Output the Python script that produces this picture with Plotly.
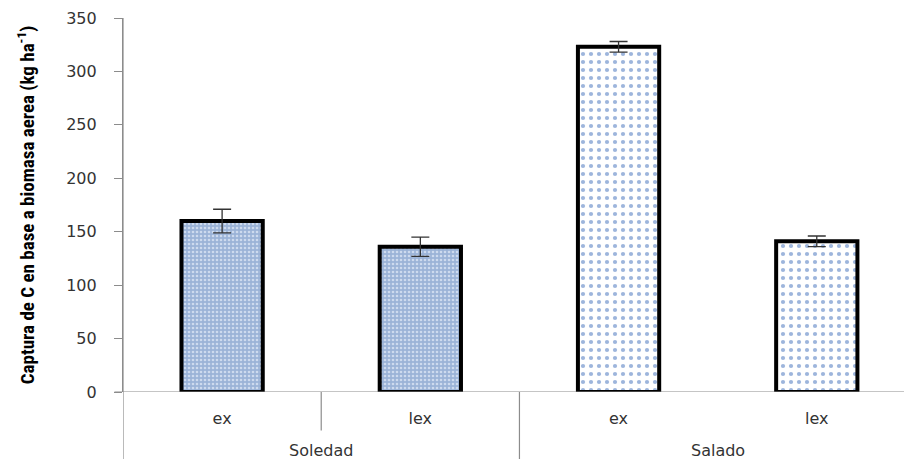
import plotly.graph_objects as go

# Carbon capture in aerial biomass by site and treatment
sites = ["Soledad", "Soledad", "Salado", "Salado"]
treatments = ["ex", "lex", "ex", "lex"]
capture = [160, 136, 323, 141]
capture_err = [11, 9, 5, 5]
y_ticks = [0, 50, 100, 150, 200, 250, 300, 350]

positions = list(range(len(capture)))

# fill style per site: dense light dots on blue, sparse blue dots on white
site_styles = {
    "Soledad": dict(bg="#9bb3d7", fg="#cddaee", size=4, solidity=0.35),
    "Salado": dict(bg="#ffffff", fg="#9db5dc", size=8, solidity=0.22),
}

fig = go.Figure()
for site, style in site_styles.items():
    idx = [i for i, s in enumerate(sites) if s == site]
    fig.add_trace(go.Bar(
        x=[positions[i] for i in idx],
        y=[capture[i] for i in idx],
        width=0.41,
        marker=dict(
            color=style["bg"],
            line=dict(color="black", width=4),
            pattern=dict(shape=".", fgcolor=style["fg"], bgcolor=style["bg"],
                         size=style["size"], solidity=style["solidity"],
                         fillmode="replace"),
        ),
        error_y=dict(type="data", array=[capture_err[i] for i in idx],
                     color="#333333", thickness=1.3, width=9),
        showlegend=False,
    ))

axis_col = "#8c8c8c"
shapes = [
    # category axis baseline, extending slightly left of the value axis
    dict(type="line", xref="paper", yref="y", x0=-0.011, x1=1, y0=0, y1=0,
         line=dict(color=axis_col, width=1.2)),
    # value axis continues down through the category label band
    dict(type="line", xref="x", yref="paper", x0=-0.5, x1=-0.5, y0=1, y1=-0.2,
         line=dict(color=axis_col, width=1.2)),
    # short dividers between treatments
    dict(type="line", xref="x", yref="paper", x0=0.5, x1=0.5, y0=0, y1=-0.103,
         line=dict(color=axis_col, width=1.2)),
    # long divider between sites
    dict(type="line", xref="x", yref="paper", x0=1.5, x1=1.5, y0=0, y1=-0.2,
         line=dict(color=axis_col, width=1.2)),
]

label_font = dict(family="DejaVu Sans", size=16, color="#333333")
annotations = []
for label, center in [("Soledad", 0.5), ("Salado", 2.5)]:
    annotations.append(dict(
        x=center, y=-0.157, xref="x", yref="paper", text=label,
        showarrow=False, font=label_font,
        xanchor="center", yanchor="middle",
    ))

fig.update_layout(
    width=904, height=459,
    margin=dict(l=123, r=0, t=18, b=67),
    paper_bgcolor="white", plot_bgcolor="white",
    shapes=shapes,
    annotations=annotations,
    barmode="overlay",
    xaxis=dict(
        range=[-0.5, 3.44],
        tickvals=positions, ticktext=treatments,
        ticks="", showline=False, showgrid=False, zeroline=False,
        ticklabelstandoff=15,
        tickfont=label_font,
    ),
    yaxis=dict(
        range=[0, 350], tickvals=y_ticks,
        ticks="outside", ticklen=8, tickcolor=axis_col, tickwidth=1.2,
        showline=True, linecolor=axis_col, linewidth=1.2,
        showgrid=False, zeroline=False,
        ticklabelstandoff=14,
        tickfont=label_font,
        title=dict(
            text="<b>Captura de C en base a biomasa aerea (kg ha<sup>-1</sup>)</b>",
            font=dict(family="Liberation Sans Narrow, Arial Narrow, Roboto Condensed, sans-serif",
                      size=19, color="black"),
            standoff=26,
        ),
    ),
)

fig.write_html("out.html")
